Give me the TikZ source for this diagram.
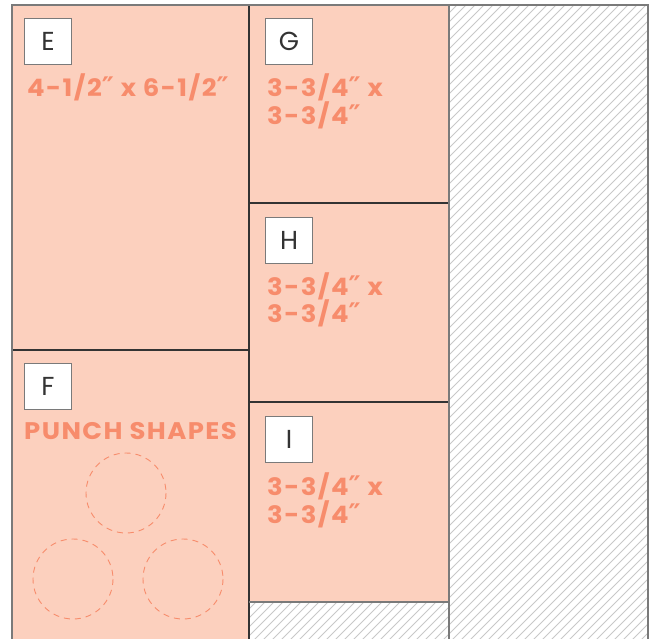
\documentclass[tikz,border=0pt]{standalone}
\usepackage{fontspec}
\setmainfont{Poppins}
\newfontfamily\sizefont{Poppins}[LetterSpace=6,FakeStretch=1.08]
\newfontfamily\primefont{DejaVu Sans}
\newcommand{\dprime}{{\primefont\bfseries\fontsize{27}{27}\selectfont ″}}
\definecolor{peach}{HTML}{FCD0BE}
\definecolor{orangetxt}{HTML}{F78C6C}
\definecolor{framegrey}{HTML}{7A7A7A}
\definecolor{darkline}{HTML}{333333}
\definecolor{hatchgrey}{HTML}{C8C8C8}
\begin{document}
\begin{tikzpicture}[x=1pt,y=-1pt,
  hatchline/.style={draw=hatchgrey,line width=1pt},
  greyline/.style={draw=framegrey,line width=1.3pt},
  darkrule/.style={draw=darkline,line width=1.2pt},
  letterbox/.style={draw=framegrey,line width=1.2pt,fill=white,minimum width=47pt,minimum height=46pt,inner sep=0pt,
    font=\fontsize{26}{26}\selectfont,text=darkline},
  sizetext/.style={anchor=base west,inner sep=0pt,text=orangetxt,font=\fontsize{24}{24}\sizefont\bfseries},
  punch/.style={draw=orangetxt,line width=0.9pt,dash pattern=on 6pt off 5pt}]
\useasboundingbox (0,0) rectangle (651,639);
\fill[white] (0,0) rectangle (651,639);
% peach regions
\fill[peach] (12,5) rectangle (249,639);
\fill[peach] (249,5) rectangle (449,602);
% hatched regions
\begin{scope}
\clip (449,5) rectangle (648,639) (249,602) rectangle (449,639);
\foreach \i in {-50,...,75} {\draw[hatchline] (\i*9,660) -- ++(700,-700);}
\end{scope}
% dividers
\draw[darkrule] (249,5) -- (249,639);
\draw[darkrule] (12,350) -- (249,350);
\draw[darkrule] (249,203) -- (449,203);
\draw[darkrule] (249,402) -- (449,402);
\draw[greyline] (449,5) -- (449,639);
\draw[greyline] (249,602) -- (449,602);
\draw[greyline] (12,639) -- (12,5) -- (648,5) -- (648,639);
% letter boxes
\node[letterbox] (boxE) at (48,41.5) {E};
\node[letterbox] (boxG) at (289,41.5) {G};
\node[letterbox] (boxH) at (289,240.5) {H};
\node[letterbox] (boxF) at (48,386.5) {F};
\node[letterbox] (boxI) at (289,439.5) {I};
% size texts
\node[sizetext] (txtE) at (27,97) {4-1/2\dprime{} x 6-1/2\dprime};
\node[sizetext] (txtG1) at (267,97) {3-3/4\dprime{} x};
\node[sizetext] (txtG2) at (267,125) {3-3/4\dprime};
\node[sizetext] (txtH1) at (267,295) {3-3/4\dprime{} x};
\node[sizetext] (txtH2) at (267,323) {3-3/4\dprime};
\node[sizetext] (txtI1) at (267,495) {3-3/4\dprime{} x};
\node[sizetext] (txtI2) at (267,523) {3-3/4\dprime};
\node[sizetext] (txtF) at (24,439) {PUNCH SHAPES};
% punch circles
\draw[punch] (126,493) circle (40);
\draw[punch] (73,579) circle (40);
\draw[punch] (183,579) circle (40);
\end{tikzpicture}
\end{document}
